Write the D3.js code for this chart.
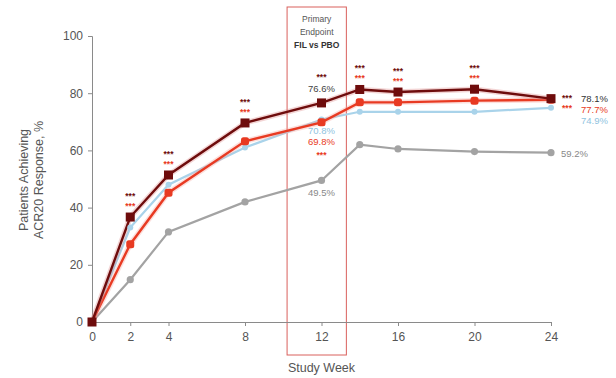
<!DOCTYPE html>
<html><head><meta charset="utf-8">
<script src="https://cdn.jsdelivr.net/npm/d3@7"></script>
<style>body{margin:0;background:#fff}svg{display:block;font-family:"Liberation Sans",Arial,sans-serif}</style>
</head><body><svg id="c" width="616" height="378"></svg>
<script>
const weeks = [0, 2, 4, 8, 12, 14, 16, 20, 24];
const xTicks = [0, 2, 4, 8, 12, 16, 20, 24];
const yTicks = [0, 20, 40, 60, 80, 100];
const fil200 = [0, 36.7, 51.4, 69.6, 76.6, 81.3, 80.4, 81.4, 78.1];
const fil100 = [0, 27.2, 45.2, 63.2, 69.8, 76.8, 76.8, 77.4, 77.7];
const ada    = [0, 33.0, 48.0, 61.0, 70.8, 73.5, 73.5, 73.5, 74.9];
const pbo    = [0, 14.8, 31.5, 42.0, 49.5, 62.0, 60.5, 59.6, 59.2];
const boxWeeks = [10.2, 13.3];
const boxText = ["Primary", "Endpoint", "FIL vs PBO"];
const sigWeeks = [2, 4, 8, 12, 14, 16, 20];

const svg = d3.select("#c");
const x = d3.scaleLinear().domain([0, 24]).range([92, 551]);
const y = d3.scaleLinear().domain([0, 100]).range([322, 36]);
const axisCol = "#8a8a8a", txtCol = "#555";
const cDark = "#6e0c0c", cRed = "#e83a22", cBlue = "#a9d3ea", cGray = "#a3a3a3";

// primary endpoint box
svg.append("rect").attr("x", x(boxWeeks[0])).attr("y", 7)
  .attr("width", x(boxWeeks[1]) - x(boxWeeks[0])).attr("height", 348)
  .attr("fill", "none").attr("stroke", "#d9605c").attr("stroke-width", 1);
boxText.forEach((t, i) => {
  svg.append("text").attr("x", (x(boxWeeks[0]) + x(boxWeeks[1])) / 2).attr("y", 22 + i * 13)
    .attr("text-anchor", "middle").attr("font-size", 8.5)
    .attr("font-weight", i === 2 ? "bold" : "normal")
    .attr("fill", i === 2 ? "#333" : "#555").text(t);
});

// axes
const ya = svg.append("g").attr("transform", `translate(${x(0)},0)`)
  .call(d3.axisLeft(y).tickValues(yTicks).tickSize(4).tickPadding(5));
const xa = svg.append("g").attr("transform", `translate(0,${y(0)})`)
  .call(d3.axisBottom(x).tickValues(xTicks).tickSize(4).tickPadding(6).tickSizeOuter(0));
[ya, xa].forEach(g => {
  g.selectAll("path,line").attr("stroke", axisCol);
  g.selectAll("text").attr("fill", txtCol).attr("font-size", 12).attr("font-family", "Liberation Sans, Arial, sans-serif");
});

svg.append("text").attr("x", x(12)).attr("y", 372).attr("text-anchor", "middle")
  .attr("font-size", 12.5).attr("fill", txtCol).text("Study Week");
const yt = svg.append("text").attr("transform", "translate(30,180) rotate(-90)")
  .attr("text-anchor", "middle").attr("font-size", 12.5).attr("fill", txtCol);
yt.append("tspan").attr("x", 0).attr("dy", "-0.2em").text("Patients Achieving");
yt.append("tspan").attr("x", 0).attr("dy", "1.2em").text("ACR20 Response, %");

const line = d3.line().x((d, i) => x(weeks[i])).y(d => y(d));
function drawLine(vals, col, w, halo) {
  if (halo) svg.append("path").datum(vals).attr("d", line).attr("fill", "none")
    .attr("stroke", halo).attr("stroke-width", w + 3).attr("stroke-opacity", 0.35);
  svg.append("path").datum(vals).attr("d", line).attr("fill", "none")
    .attr("stroke", col).attr("stroke-width", w);
}
drawLine(pbo, cGray, 2.2);
drawLine(ada, cBlue, 2.2);
drawLine(fil100, cRed, 2.4, "#f6a29a");
drawLine(fil200, cDark, 2.4, "#d88");

// markers
svg.selectAll(".mp").data(pbo).join("circle").attr("cx", (d, i) => x(weeks[i])).attr("cy", d => y(d))
  .attr("r", 3.6).attr("fill", cGray);
svg.selectAll(".mb").data(ada).join("circle").attr("cx", (d, i) => x(weeks[i])).attr("cy", d => y(d))
  .attr("r", 3).attr("fill", cBlue);
svg.selectAll(".mr").data(fil100).join("rect").attr("x", (d, i) => x(weeks[i]) - 4).attr("y", d => y(d) - 4)
  .attr("width", 8).attr("height", 8).attr("rx", 2.5).attr("fill", cRed);
svg.selectAll(".md").data(fil200).join("rect").attr("x", (d, i) => x(weeks[i]) - 4.5).attr("y", d => y(d) - 4.5)
  .attr("width", 9).attr("height", 9).attr("fill", cDark);

// significance stars
function stars(xp, yp, col) {
  svg.append("text").attr("x", xp).attr("y", yp).attr("text-anchor", "middle")
    .attr("font-size", 8.5).attr("font-weight", "bold").attr("fill", col).text("***");
}
sigWeeks.forEach(w => {
  const i = weeks.indexOf(w);
  if (w === 12) {
    stars(x(w), y(fil200[i]) - 23, cDark);
    stars(x(w), y(fil100[i]) + 36, cRed);
  } else {
    stars(x(w), y(fil200[i]) - 18, cDark);
    stars(x(w), y(fil200[i]) - 8, cRed);
  }
});
// week 24 stars to the right
stars(x(24) + 16, y(fil200[8]) + 2, cDark);
stars(x(24) + 16, y(fil200[8]) + 12, cRed);

// value labels
function lab(xp, yp, t, col, anchor) {
  svg.append("text").attr("x", xp).attr("y", yp).attr("text-anchor", anchor || "middle")
    .attr("font-size", 9.5).attr("fill", col).text(t);
}
const i12 = weeks.indexOf(12);
lab(x(12), y(fil200[i12]) - 11, fil200[i12].toFixed(1) + "%", "#444");
lab(x(12), 134, ada[i12].toFixed(1) + "%", "#8fc3e0");
lab(x(12), 145, fil100[i12].toFixed(1) + "%", cRed);
lab(x(12), y(pbo[i12]) + 16, pbo[i12].toFixed(1) + "%", "#888");
lab(x(24) + 30, y(fil200[8]) + 3, fil200[8].toFixed(1) + "%", "#333", "start");
lab(x(24) + 30, y(fil200[8]) + 14, fil100[8].toFixed(1) + "%", cRed, "start");
lab(x(24) + 30, y(fil200[8]) + 25, ada[8].toFixed(1) + "%", "#8fc3e0", "start");
lab(x(24) + 10, y(pbo[8]) + 4, pbo[8].toFixed(1) + "%", "#888", "start");
</script></body></html>
